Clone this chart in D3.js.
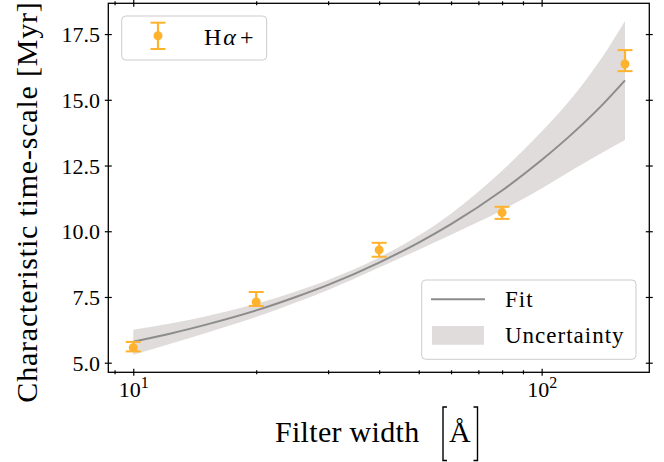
<!DOCTYPE html>
<html><head><meta charset="utf-8">
<script src="https://cdn.jsdelivr.net/npm/d3@7"></script>
<style>
body{margin:0;background:#fff}
</style>
</head><body>
<svg id="c" width="664" height="462"></svg>
<script>
// ---- data ----
const filterWidths = [10, 20, 40, 80, 160];
const timeScale    = [5.57, 7.31, 9.29, 10.71, 16.36];
const errLow       = [5.43, 7.16, 9.03, 10.47, 16.09];
const errHigh      = [5.79, 7.69, 9.56, 10.93, 16.89];

const fitX     = [10, 12.5, 15, 20, 25, 30, 40, 50, 60, 80, 100, 120, 140, 160];
const fitY     = [5.80, 6.13, 6.44, 6.99, 7.50, 7.96, 8.81, 9.57, 10.27, 11.55, 12.71, 13.77, 14.77, 15.74];
const bandHigh = [6.25, 6.51, 6.76, 7.24, 7.71, 8.15, 9.00, 9.84, 10.67, 12.30, 13.79, 15.17, 16.57, 18.00];
const bandLow  = [5.30, 5.75, 6.12, 6.74, 7.29, 7.77, 8.62, 9.30, 9.87, 10.80, 11.63, 12.37, 12.97, 13.47];

const yTicks = [5.0, 7.5, 10.0, 12.5, 15.0, 17.5];
const xMajorTicks = [10, 100];
const xMinorTicks = [9, 20, 30, 40, 50, 60, 70, 80, 90];

// ---- layout ----
const FONT = "'Liberation Serif', 'Times New Roman', serif";
const L = 108.3, R = 649.3, T = 3.3, B = 372.3;
const ORANGE = "#FFB22E", FITC = "#8c8c8c", BAND = "#dfdcdb";

const svg = d3.select("#c").attr("font-family", FONT);
const x = d3.scaleLog().domain([8.687, 183.5]).range([L, R]);
const y = d3.scaleLinear().domain([4.635, 18.67]).range([B, T]);

// band + fit
const bandData = fitX.map((v, i) => ({x: v, lo: bandLow[i], hi: bandHigh[i], f: fitY[i]}));
svg.append("path").datum(bandData)
  .attr("d", d3.area().x(d => x(d.x)).y0(d => y(d.lo)).y1(d => y(d.hi)).curve(d3.curveMonotoneX))
  .attr("fill", BAND);
svg.append("path").datum(bandData)
  .attr("d", d3.line().x(d => x(d.x)).y(d => y(d.f)).curve(d3.curveMonotoneX))
  .attr("fill", "none").attr("stroke", FITC).attr("stroke-width", 2);

// error bars
const pts = filterWidths.map((v, i) => ({x: v, y: timeScale[i], lo: errLow[i], hi: errHigh[i]}));
const eg = svg.append("g");
eg.selectAll("line.v").data(pts).join("line").attr("class", "v")
  .attr("x1", d => x(d.x)).attr("x2", d => x(d.x))
  .attr("y1", d => y(d.lo)).attr("y2", d => y(d.hi))
  .attr("stroke", ORANGE).attr("stroke-width", 2.2);
["lo", "hi"].forEach(k => {
  eg.selectAll("line.c" + k).data(pts).join("line").attr("class", "c" + k)
    .attr("x1", d => x(d.x) - 7.5).attr("x2", d => x(d.x) + 7.5)
    .attr("y1", d => y(d[k])).attr("y2", d => y(d[k]))
    .attr("stroke", ORANGE).attr("stroke-width", 2);
});
eg.selectAll("circle").data(pts).join("circle")
  .attr("cx", d => x(d.x)).attr("cy", d => y(d.y)).attr("r", 4.5).attr("fill", ORANGE);

// axes
function tidy(g) {
  g.attr("font-family", FONT).attr("font-size", 22);
  g.selectAll(".tick line").attr("stroke", "#000").attr("stroke-width", 1.2);
  g.select(".domain").remove();
}
const xb = svg.append("g").attr("transform", `translate(0,${B})`)
  .call(d3.axisBottom(x).tickValues(xMajorTicks).tickSize(3.5).tickFormat(""));
xb.selectAll(".tick line").attr("y1", -3.5);
tidy(xb);
xb.selectAll(".tick").append("text")
  .attr("y", 24.5).attr("text-anchor", "middle").attr("font-size", 22).attr("fill", "#000")
  .attr("font-family", FONT)
  .each(function(d) {
    const t = d3.select(this);
    t.append("tspan").text("10");
    t.append("tspan").attr("dy", -9).attr("font-size", 16).text(Math.round(Math.log10(d)));
  });
const xbm = svg.append("g").attr("transform", `translate(0,${B})`)
  .call(d3.axisBottom(x).tickValues(xMinorTicks).tickSize(2).tickFormat(""));
xbm.selectAll(".tick line").attr("y1", -2);
tidy(xbm);
const xt = svg.append("g").attr("transform", `translate(0,${T})`)
  .call(d3.axisTop(x).tickValues(xMajorTicks).tickSize(3.5).tickFormat(""));
xt.selectAll(".tick line").attr("y1", 3.5);
tidy(xt);
const xtm = svg.append("g").attr("transform", `translate(0,${T})`)
  .call(d3.axisTop(x).tickValues(xMinorTicks).tickSize(2).tickFormat(""));
xtm.selectAll(".tick line").attr("y1", 2);
tidy(xtm);

const yl = svg.append("g").attr("transform", `translate(${L},0)`)
  .call(d3.axisLeft(y).tickValues(yTicks).tickSize(3.5).tickPadding(4.8).tickFormat(d3.format(".1f")));
yl.selectAll(".tick line").attr("x1", 3.5);
tidy(yl);
yl.selectAll(".tick text").attr("font-size", 22).attr("font-family", FONT).attr("fill", "#000")
  .attr("dy", "0.34em");
const yr = svg.append("g").attr("transform", `translate(${R},0)`)
  .call(d3.axisRight(y).tickValues(yTicks).tickSize(3.5).tickFormat(""));
yr.selectAll(".tick line").attr("x1", -3.5);
tidy(yr);

// frame
svg.append("rect").attr("x", L).attr("y", T).attr("width", R - L).attr("height", B - T)
  .attr("fill", "none").attr("stroke", "#000").attr("stroke-width", 1.3);

// axis labels
svg.append("text").attr("transform", "translate(36.5,202) rotate(-90)")
  .attr("text-anchor", "middle").attr("font-size", 30).attr("letter-spacing", 0.8)
  .text("Characteristic time-scale [Myr]");
svg.append("text").attr("x", 275).attr("y", 442).attr("font-size", 30).attr("letter-spacing", 0.3)
  .text("Filter width");
svg.append("text").attr("x", 449).attr("y", 442).attr("font-size", 30).text("Å");
const br = svg.append("g").attr("fill", "none").attr("stroke", "#000").attr("stroke-width", 1.4);
br.append("path").attr("d", "M447,407 H443 V460.5 H447");
br.append("path").attr("d", "M473.5,407 H477.5 V460.5 H473.5");

// legend 1
svg.append("rect").attr("x", 121.7).attr("y", 16).attr("width", 145).attr("height", 44).attr("rx", 4)
  .attr("fill", "#fff").attr("fill-opacity", 0.8).attr("stroke", "#cccccc").attr("stroke-width", 1);
const lg1 = svg.append("g");
lg1.append("line").attr("x1", 158).attr("x2", 158).attr("y1", 22.7).attr("y2", 49)
  .attr("stroke", ORANGE).attr("stroke-width", 2.2);
[22.7, 49].forEach(v => lg1.append("line").attr("x1", 150.5).attr("x2", 165.5).attr("y1", v).attr("y2", v)
  .attr("stroke", ORANGE).attr("stroke-width", 2));
lg1.append("circle").attr("cx", 158).attr("cy", 35.7).attr("r", 4.5).attr("fill", ORANGE);
const t1 = lg1.append("text").attr("x", 204).attr("y", 45).attr("font-size", 24);
t1.append("tspan").text("H");
t1.append("tspan").attr("font-style", "italic").attr("dx", 2).text("α");
t1.append("tspan").attr("dx", 4).text("+");

// legend 2
svg.append("rect").attr("x", 421.7).attr("y", 280).attr("width", 214.3).attr("height", 79.3).attr("rx", 4)
  .attr("fill", "#fff").attr("fill-opacity", 0.8).attr("stroke", "#cccccc").attr("stroke-width", 1);
svg.append("line").attr("x1", 431).attr("x2", 485).attr("y1", 299.3).attr("y2", 299.3)
  .attr("stroke", FITC).attr("stroke-width", 2);
svg.append("rect").attr("x", 432).attr("y", 326).attr("width", 52).attr("height", 18.7).attr("fill", BAND);
svg.append("text").attr("x", 505).attr("y", 306.7).attr("font-size", 23).attr("letter-spacing", 1).text("Fit");
svg.append("text").attr("x", 505).attr("y", 343).attr("font-size", 23).attr("letter-spacing", 1).text("Uncertainty");
</script>
</body></html>
